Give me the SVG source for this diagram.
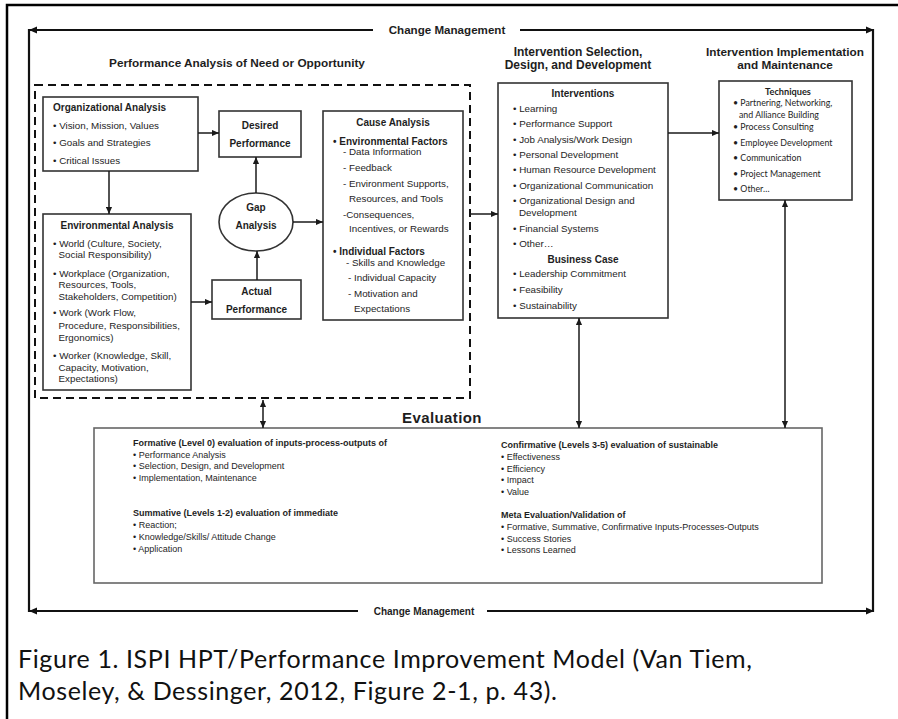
<svg xmlns="http://www.w3.org/2000/svg" width="898" height="719" viewBox="0 0 898 719">
<defs>
<marker id="ah" viewBox="0 0 8 8" refX="8" refY="4" markerWidth="7" markerHeight="7" markerUnits="userSpaceOnUse" orient="auto-start-reverse"><path d="M0,0.5 L8,4 L0,7.5 z" fill="#1a1a1a"/></marker>
<marker id="ahc" viewBox="0 0 8 8" refX="7" refY="4" markerWidth="8" markerHeight="8" markerUnits="userSpaceOnUse" orient="auto-start-reverse"><path d="M0,0.5 L8,4 L0,7.5 z" fill="#111"/></marker>
</defs>
<style>
text{font-family:"Liberation Sans",Arial,sans-serif;fill:#1e1e1e}
.t{font-weight:bold;font-size:10px}
.tm{font-weight:bold;font-size:10px;text-anchor:middle}
.b{font-size:9.8px}
.h{font-weight:bold;font-size:12px;text-anchor:middle}
.tq{font-family:Lato,"Liberation Sans",sans-serif;font-size:8.8px}
.tqh{font-family:Lato,"Liberation Sans",sans-serif;font-size:9.2px;font-weight:bold;text-anchor:middle}
.e{font-size:9px}
.eh{font-size:9px;font-weight:bold}
.box{fill:#fff;stroke:#333;stroke-width:1.6}
.c{stroke:#1a1a1a;stroke-width:1.5;fill:none}
.cm{stroke:#111;stroke-width:2.2;fill:none}
.cap{font-family:Lato,"Liberation Sans",sans-serif;font-size:25px;letter-spacing:0.6px;fill:#111}
</style>
<rect x="7" y="5" width="900" height="730" fill="none" stroke="#000" stroke-width="2.5"/>

<g id="change-management">
<line class="cm" x1="373" y1="30" x2="30" y2="30" marker-end="url(#ahc)"/>
<line class="cm" x1="520" y1="30" x2="873" y2="30" marker-end="url(#ahc)"/>
<line class="cm" x1="29" y1="29" x2="29" y2="612"/>
<line class="cm" x1="873" y1="29" x2="873" y2="612"/>
<line class="cm" x1="358" y1="611" x2="30" y2="611" marker-end="url(#ahc)"/>
<line class="cm" x1="487" y1="611" x2="873" y2="611" marker-end="url(#ahc)"/>
<text x="447" y="34" style="font-weight:bold;font-size:11.6px;text-anchor:middle">Change Management</text>
<text x="424" y="615" style="font-weight:bold;font-size:10px;text-anchor:middle">Change Management</text>
</g>

<g id="headings">
<text class="h" x="237" y="67" style="font-size:11.8px">Performance Analysis  of Need or Opportunity</text>
<text class="h" x="578" y="56">Intervention Selection,</text>
<text class="h" x="578" y="69">Design, and Development</text>
<text class="h" x="785" y="56" style="font-size:11.8px">Intervention Implementation</text>
<text class="h" x="785" y="69" style="font-size:11.8px">and Maintenance</text>
</g>

<g id="performance-analysis">
<rect x="35" y="85" width="435" height="313" fill="none" stroke="#111" stroke-width="2" stroke-dasharray="8 5"/>
</g>

<g id="organizational-analysis">
<rect class="box" x="43" y="97" width="155" height="74"/>
<text class="t" x="53" y="110.5">Organizational Analysis</text>
<text class="b" x="53" y="128.5">• Vision, Mission, Values</text>
<text class="b" x="53" y="146">• Goals and Strategies</text>
<text class="b" x="53" y="163.5">• Critical Issues</text>
</g>

<g id="desired-performance">
<rect class="box" x="219" y="111" width="82" height="46"/>
<text class="tm" x="260" y="128.5">Desired</text>
<text class="tm" x="260" y="146.5">Performance</text>
</g>

<g id="environmental-analysis">
<rect class="box" x="43" y="214" width="148" height="176"/>
<text class="tm" x="117" y="228.5">Environmental Analysis</text>
<text class="b" x="53" y="246.5">• World (Culture, Society,</text>
<text class="b" x="58.5" y="258">Social Responsibility)</text>
<text class="b" x="53" y="276.5">• Workplace (Organization,</text>
<text class="b" x="58.5" y="288">Resources, Tools,</text>
<text class="b" x="58.5" y="300">Stakeholders, Competition)</text>
<text class="b" x="53" y="316">• Work (Work Flow,</text>
<text class="b" x="58.5" y="328.5">Procedure, Responsibilities,</text>
<text class="b" x="58.5" y="340.5">Ergonomics)</text>
<text class="b" x="53" y="358.5">• Worker (Knowledge, Skill,</text>
<text class="b" x="58.5" y="370.5">Capacity, Motivation,</text>
<text class="b" x="58.5" y="382">Expectations)</text>
</g>

<g id="gap-analysis">
<ellipse cx="256" cy="222" rx="37" ry="29" fill="#fff" stroke="#333" stroke-width="1.6"/>
<text class="tm" x="256" y="210.5">Gap</text>
<text class="tm" x="256" y="228.5">Analysis</text>
</g>

<g id="actual-performance">
<rect class="box" x="212" y="280" width="89" height="39"/>
<text class="tm" x="256.5" y="294.5">Actual</text>
<text class="tm" x="256.5" y="312.5">Performance</text>
</g>

<g id="cause-analysis">
<rect class="box" x="323" y="111" width="140" height="209"/>
<text class="tm" x="393" y="125.5">Cause Analysis</text>
<text class="t" x="333" y="144.5">• Environmental Factors</text>
<text class="b" x="343" y="154.5">- Data Information</text>
<text class="b" x="343" y="170.5">- Feedback</text>
<text class="b" x="343" y="186.5">- Environment  Supports,</text>
<text class="b" x="349" y="201.5">Resources, and Tools</text>
<text class="b" x="343" y="217.5">-Consequences,</text>
<text class="b" x="349" y="231.5">Incentives, or Rewards</text>
<text class="t" x="333" y="254.5">• Individual Factors</text>
<text class="b" x="346" y="265.5">- Skills  and Knowledge</text>
<text class="b" x="348" y="280.5">- Individual  Capacity</text>
<text class="b" x="348" y="296.5">- Motivation  and</text>
<text class="b" x="354" y="311.5">Expectations</text>
</g>

<g id="interventions">
<rect class="box" x="498" y="83" width="170" height="235"/>
<text class="tm" x="583" y="96.5">Interventions</text>
<text class="b" x="513" y="111.5">• Learning</text>
<text class="b" x="513" y="126.5">• Performance Support</text>
<text class="b" x="513" y="142.5">• Job Analysis/Work Design</text>
<text class="b" x="513" y="157.5">• Personal Development</text>
<text class="b" x="513" y="172.5">• Human  Resource Development</text>
<text class="b" x="513" y="188.5">• Organizational Communication</text>
<text class="b" x="513" y="203.5">• Organizational Design and</text>
<text class="b" x="519" y="215.5">Development</text>
<text class="b" x="513" y="231.5">• Financial  Systems</text>
<text class="b" x="513" y="246.5">• Other…</text>
<text class="tm" x="583" y="262.5">Business Case</text>
<text class="b" x="513" y="276.5">• Leadership Commitment</text>
<text class="b" x="513" y="292.5">• Feasibility</text>
<text class="b" x="513" y="308.5">• Sustainability</text>
</g>

<g id="techniques">
<rect class="box" x="719" y="81" width="133" height="119"/>
<text class="tqh" x="788" y="95">Techniques</text>
<text class="tq" x="733" y="106">• Partnering, Networking,</text>
<text class="tq" x="739" y="118">and Alliance Building</text>
<text class="tq" x="733" y="130">• Process Consulting</text>
<text class="tq" x="733" y="145.5">• Employee Development</text>
<text class="tq" x="733" y="161">• Communication</text>
<text class="tq" x="733" y="176.5">• Project Management</text>
<text class="tq" x="733" y="192">•  Other…</text>
</g>

<g id="evaluation">
<rect x="94" y="428" width="728" height="155" fill="#fff" stroke="#666" stroke-width="1.6"/>
<text x="402" y="423" style="font-weight:bold;font-size:15px;letter-spacing:0.4px">Evaluation</text>
<text class="eh" x="133" y="446">Formative (Level 0) evaluation of inputs-process-outputs  of</text>
<text class="e" x="133" y="457.5">• Performance Analysis</text>
<text class="e" x="133" y="469">• Selection, Design, and Development</text>
<text class="e" x="133" y="480.5">• Implementation,  Maintenance</text>
<text class="eh" x="133" y="516">Summative (Levels 1-2) evaluation of immediate</text>
<text class="e" x="133" y="528">• Reaction;</text>
<text class="e" x="133" y="540">• Knowledge/Skills/ Attitude Change</text>
<text class="e" x="133" y="551.5">• Application</text>
<text class="eh" x="501" y="448">Confirmative (Levels 3-5)  evaluation of  sustainable</text>
<text class="e" x="501" y="460">• Effectiveness</text>
<text class="e" x="501" y="471.5">• Efficiency</text>
<text class="e" x="501" y="483">• Impact</text>
<text class="e" x="501" y="495">• Value</text>
<text class="eh" x="501" y="518">Meta Evaluation/Validation of</text>
<text class="e" x="501" y="530">• Formative, Summative,  Confirmative Inputs-Processes-Outputs</text>
<text class="e" x="501" y="541.5">• Success Stories</text>
<text class="e" x="501" y="553">• Lessons Learned</text>
</g>

<g id="connectors">
<line class="c" x1="198" y1="133" x2="219" y2="133" marker-end="url(#ah)"/>
<line class="c" x1="109" y1="171" x2="109" y2="214" marker-end="url(#ah)"/>
<line class="c" x1="256" y1="193" x2="256" y2="157" marker-end="url(#ah)"/>
<line class="c" x1="293" y1="222" x2="323" y2="222" marker-end="url(#ah)"/>
<line class="c" x1="257" y1="280" x2="257" y2="251" marker-end="url(#ah)"/>
<line class="c" x1="191" y1="302" x2="212" y2="302" marker-end="url(#ah)"/>
<line class="c" x1="470" y1="214" x2="498" y2="214" marker-end="url(#ah)"/>
<line class="c" x1="668" y1="133" x2="719" y2="133" marker-end="url(#ah)"/>
<line class="c" x1="263" y1="400" x2="263" y2="428" marker-start="url(#ah)" marker-end="url(#ah)"/>
<line class="c" x1="579" y1="318" x2="579" y2="428" marker-start="url(#ah)" marker-end="url(#ah)"/>
<line class="c" x1="785" y1="200" x2="785" y2="428" marker-start="url(#ah)" marker-end="url(#ah)"/>
</g>

<g id="caption">
<text class="cap" x="18" y="668">Figure 1. ISPI HPT/Performance Improvement Model (Van Tiem,</text>
<text class="cap" x="18" y="700">Moseley, &amp; Dessinger, 2012, Figure 2-1, p. 43).</text>
</g>
</svg>
